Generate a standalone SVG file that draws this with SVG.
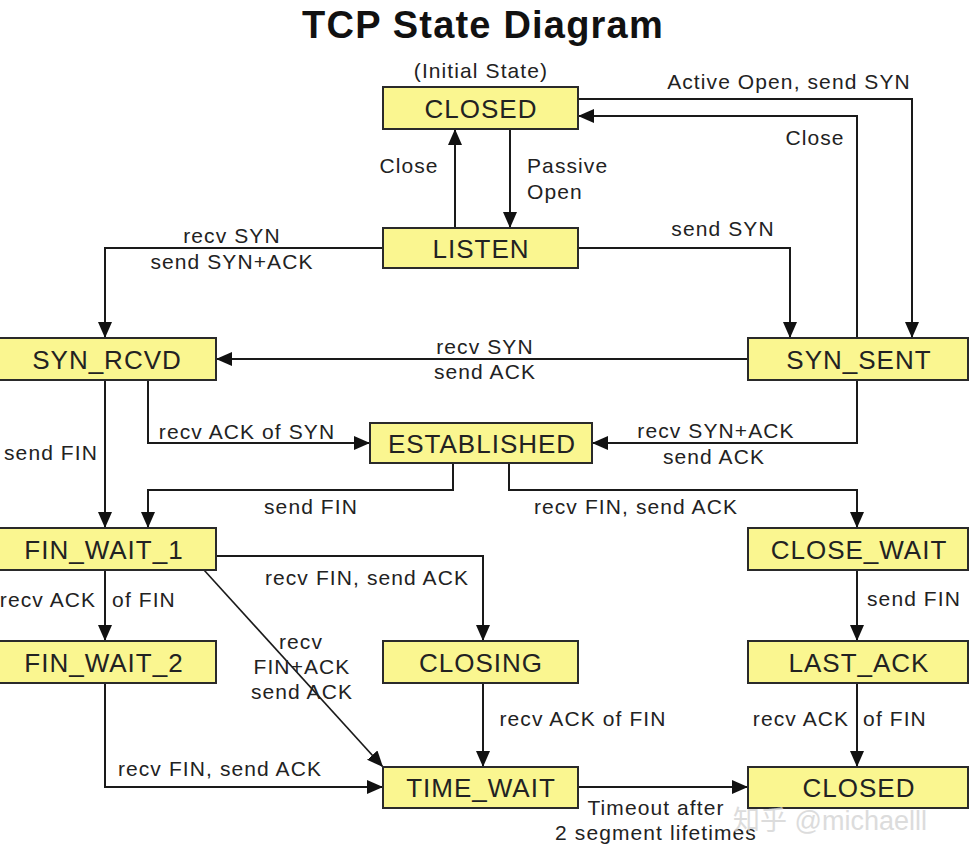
<svg xmlns="http://www.w3.org/2000/svg" width="978" height="852" viewBox="0 0 978 852">
<defs>
<style>
.box{fill:#FAF690;stroke:#2a2a2a;stroke-width:2}
.nt{font-family:"Liberation Sans",Arial,sans-serif;font-size:26px;letter-spacing:1px;fill:#222;text-anchor:middle}
.lb{font-family:"Liberation Sans",Arial,sans-serif;font-size:21px;letter-spacing:1.1px;fill:#222}
.m{text-anchor:middle}
.ln{fill:none;stroke:#1a1a1a;stroke-width:2;marker-end:url(#ah)}
.ln2{fill:none;stroke:#1a1a1a;stroke-width:1.6;marker-end:url(#ah)}
.title{font-family:"Liberation Sans",Arial,sans-serif;font-size:38px;font-weight:bold;letter-spacing:1.2px;fill:#111;text-anchor:middle}
.wm{font-family:"Liberation Sans","Noto Sans CJK SC",sans-serif;font-size:27px;fill:#d4d4d4;opacity:0.8}
</style>
<marker id="ah" markerUnits="userSpaceOnUse" markerWidth="17" markerHeight="15" refX="16" refY="7" orient="auto">
<path d="M0,0 L16,7 L0,14 z" fill="#111"/>
</marker>
</defs>
<rect width="978" height="852" fill="#fff"/>
<text class="title" x="483" y="38">TCP State Diagram</text>

<g id="connectors">
<path class="ln" d="M578,99 H912 V338"/>
<path class="ln" d="M857,338 V116 H578"/>
<path class="ln" d="M455,228 V129"/>
<path class="ln" d="M510,129 V228"/>
<path class="ln" d="M578,248 H790 V338"/>
<path class="ln" d="M383,248 H105 V338"/>
<path class="ln" d="M748,359 H216"/>
<path class="ln" d="M148,380 V443 H370"/>
<path class="ln" d="M857,380 V443 H592"/>
<path class="ln" d="M105,380 V528"/>
<path class="ln" d="M453,463 V490 H148 V528"/>
<path class="ln" d="M509,463 V490 H857 V528"/>
<path class="ln" d="M216,556 H483 V641"/>
<path class="ln" d="M105,570 V641"/>
<path class="ln2" d="M204,570 L383,767"/>
<path class="ln" d="M105,683 V787 H383"/>
<path class="ln" d="M483,683 V767"/>
<path class="ln" d="M857,570 V641"/>
<path class="ln" d="M857,683 V767"/>
<path class="ln" d="M578,787 H748"/>

<text class="lb m" x="481" y="78">(Initial State)</text>
<text class="lb m" x="789" y="89">Active Open, send SYN</text>
<text class="lb m" x="815" y="145">Close</text>
<text class="lb m" x="409" y="173">Close</text>
<text class="lb" x="527" y="173">Passive</text>
<text class="lb" x="527" y="199">Open</text>
<text class="lb m" x="723" y="236">send SYN</text>
<text class="lb m" x="232" y="243">recv SYN</text>
<text class="lb m" x="232" y="269">send SYN+ACK</text>
<text class="lb m" x="485" y="354">recv SYN</text>
<text class="lb m" x="485" y="379">send ACK</text>
<text class="lb m" x="247" y="439">recv ACK of SYN</text>
<text class="lb m" x="716" y="438">recv SYN+ACK</text>
<text class="lb m" x="714" y="464">send ACK</text>
<text class="lb m" x="51" y="460">send FIN</text>
<text class="lb m" x="311" y="514">send FIN</text>
<text class="lb m" x="636" y="514">recv FIN, send ACK</text>
<text class="lb m" x="367" y="585">recv FIN, send ACK</text>
<text class="lb m" x="48" y="607">recv ACK</text>
<text class="lb m" x="144" y="607">of FIN</text>
<text class="lb m" x="301" y="649">recv</text>
<text class="lb m" x="302" y="674">FIN+ACK</text>
<text class="lb m" x="302" y="699">send ACK</text>
<text class="lb m" x="914" y="606">send FIN</text>
<text class="lb m" x="583" y="726">recv ACK of FIN</text>
<text class="lb m" x="801" y="726">recv ACK</text>
<text class="lb m" x="895" y="726">of FIN</text>
<text class="lb m" x="220" y="776">recv FIN, send ACK</text>
<text class="lb m" x="656" y="815">Timeout after</text>
<text class="lb m" x="656" y="840">2 segment lifetimes</text>
</g>

<g id="closed-top"><rect class="box" x="383" y="87" width="195" height="42"/><text class="nt" x="481" y="118">CLOSED</text></g>
<g id="listen"><rect class="box" x="383" y="228" width="195" height="40"/><text class="nt" x="481" y="258">LISTEN</text></g>
<g id="syn-rcvd"><rect class="box" x="-1" y="338" width="217" height="42"/><text class="nt" x="107" y="369">SYN_RCVD</text></g>
<g id="syn-sent"><rect class="box" x="748" y="338" width="220" height="42"/><text class="nt" x="859" y="369">SYN_SENT</text></g>
<g id="established"><rect class="box" x="370" y="423" width="222" height="40"/><text class="nt" x="482" y="453">ESTABLISHED</text></g>
<g id="fin-wait-1"><rect class="box" x="-1" y="528" width="217" height="42"/><text class="nt" x="104" y="559">FIN_WAIT_1</text></g>
<g id="close-wait"><rect class="box" x="748" y="528" width="220" height="42"/><text class="nt" x="859" y="559">CLOSE_WAIT</text></g>
<g id="fin-wait-2"><rect class="box" x="-1" y="641" width="217" height="42"/><text class="nt" x="104" y="672">FIN_WAIT_2</text></g>
<g id="closing"><rect class="box" x="383" y="641" width="195" height="42"/><text class="nt" x="481" y="672">CLOSING</text></g>
<g id="last-ack"><rect class="box" x="748" y="641" width="220" height="42"/><text class="nt" x="859" y="672">LAST_ACK</text></g>
<g id="time-wait"><rect class="box" x="383" y="767" width="195" height="41"/><text class="nt" x="481" y="797">TIME_WAIT</text></g>
<g id="closed-bottom"><rect class="box" x="748" y="767" width="220" height="41"/><text class="nt" x="859" y="797">CLOSED</text></g>

<text class="wm" x="733" y="830">知乎 @michaelll</text>
</svg>
